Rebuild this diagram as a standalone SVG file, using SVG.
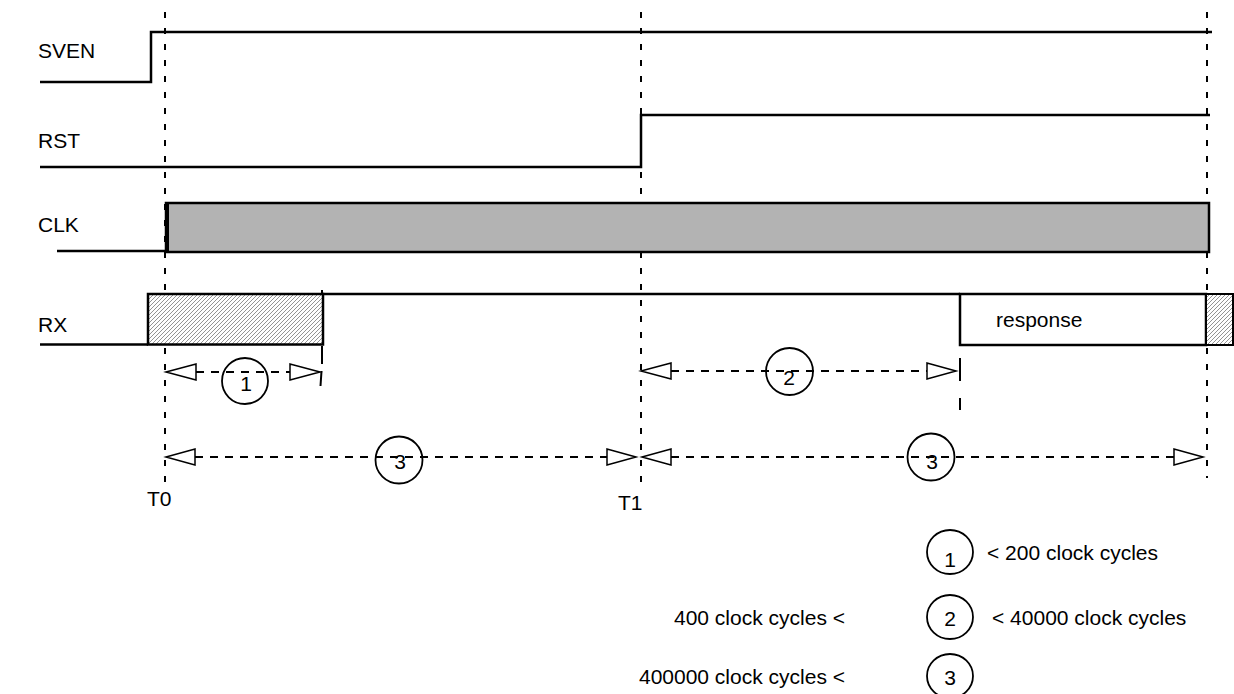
<svg xmlns="http://www.w3.org/2000/svg" width="1234" height="694" viewBox="0 0 1234 694">
<style>
text{font-family:"Liberation Sans",Arial,sans-serif;font-size:21px;fill:#000}
.sig{fill:none;stroke:#000;stroke-width:2.5}
.vd{stroke:#000;stroke-width:2;stroke-dasharray:6 10;fill:none}
.dim{stroke:#000;stroke-width:1.8;stroke-dasharray:8 7;fill:none}
.ah{fill:#fff;stroke:#000;stroke-width:1.5}
.circ{fill:none;stroke:#000;stroke-width:1.8}
.tick{stroke:#000;stroke-width:2}
.mid{text-anchor:middle}
.end{text-anchor:end}
</style>
<defs>
<pattern id="hatch" patternUnits="userSpaceOnUse" width="4" height="4">
<rect width="4" height="4" fill="#fff"/>
<path d="M-1,1 L1,-1 M0,4 L4,0 M3,5 L5,3" stroke="#666" stroke-width="0.7"/>
</pattern>
</defs>
<g id="timelines">
<line class="vd" x1="165" y1="12" x2="165" y2="482"/>
<line class="vd" x1="641" y1="12" x2="641" y2="490"/>
<line class="vd" x1="1207" y1="12" x2="1207" y2="478"/>
</g>
<g id="sven">
<text x="38" y="58">SVEN</text>
<path class="sig" d="M40,82 H151 V32 H1212"/>
</g>
<g id="rst">
<text x="38" y="148">RST</text>
<path class="sig" d="M40,167 H641 V115 H1210"/>
</g>
<g id="clk">
<text x="38" y="232">CLK</text>
<path class="sig" d="M57,251 H166"/>
<rect x="166" y="203" width="1043" height="49" fill="#b3b3b3" stroke="#000" stroke-width="2.5"/>
<line x1="167.5" y1="203" x2="167.5" y2="252" stroke="#000" stroke-width="3"/>
</g>
<g id="rx">
<text x="38" y="332">RX</text>
<path class="sig" d="M40,344.5 H148"/>
<rect x="148" y="294" width="175" height="50.5" fill="url(#hatch)" stroke="#000" stroke-width="2.5"/>
<path class="sig" d="M323,294 H960"/>
<line class="tick" x1="322" y1="290" x2="322" y2="294"/>
</g>
<g id="response">
<rect x="960" y="294" width="246" height="51" fill="#fff" stroke="#000" stroke-width="2.5"/>
<text x="996" y="327">response</text>
<rect x="1206" y="294" width="27" height="51" fill="url(#hatch)" stroke="#000" stroke-width="2"/>
</g>
<g id="connectors">
<line class="dim" x1="196" y1="372" x2="290" y2="372"/>
<polygon class="ah" points="166,372 196,364 196,380"/>
<polygon class="ah" points="320,372 290,364 290,380"/>
<path class="tick" d="M322,346 V364 M321.5,371 L320.5,386"/>
<line class="dim" x1="671" y1="371" x2="927" y2="371"/>
<polygon class="ah" points="641,371 671,363 671,379"/>
<polygon class="ah" points="956,371 927,363 927,379"/>
<path class="tick" d="M960,358 V381 M960,398 V410"/>
<line class="dim" x1="195" y1="457" x2="607" y2="457"/>
<polygon class="ah" points="166,457 195,449 195,465"/>
<polygon class="ah" points="636,457 607,449 607,465"/>
<line class="dim" x1="671" y1="457" x2="1174" y2="457"/>
<polygon class="ah" points="642,457 671,449 671,465"/>
<polygon class="ah" points="1203,457 1174,449 1174,465"/>
</g>
<g id="label1">
<circle class="circ" cx="245" cy="381" r="23"/>
<text class="mid" x="246" y="391">1</text>
</g>
<g id="label2">
<circle class="circ" cx="789.5" cy="371.5" r="23.5"/>
<text class="mid" x="789" y="385">2</text>
</g>
<g id="label3a">
<circle class="circ" cx="399" cy="460" r="23.5"/>
<text class="mid" x="400" y="469">3</text>
</g>
<g id="label3b">
<circle class="circ" cx="931" cy="457" r="23.5"/>
<text class="mid" x="932" y="469">3</text>
</g>
<g id="markers">
<text x="147" y="506">T0</text>
<text x="618" y="510">T1</text>
</g>
<g id="legend1">
<ellipse class="circ" cx="950" cy="552" rx="23" ry="22"/>
<text class="mid" x="950" y="567">1</text>
<text x="987" y="560">&lt; 200 clock cycles</text>
</g>
<g id="legend2">
<ellipse class="circ" cx="950" cy="617" rx="23" ry="22"/>
<text class="mid" x="950" y="626">2</text>
<text class="end" x="845" y="625">400 clock cycles &lt;</text>
<text x="992" y="625">&lt; 40000 clock cycles</text>
</g>
<g id="legend3">
<ellipse class="circ" cx="950" cy="676" rx="23" ry="22"/>
<text class="mid" x="950" y="685">3</text>
<text class="end" x="845" y="684">400000 clock cycles &lt;</text>
</g>
</svg>
